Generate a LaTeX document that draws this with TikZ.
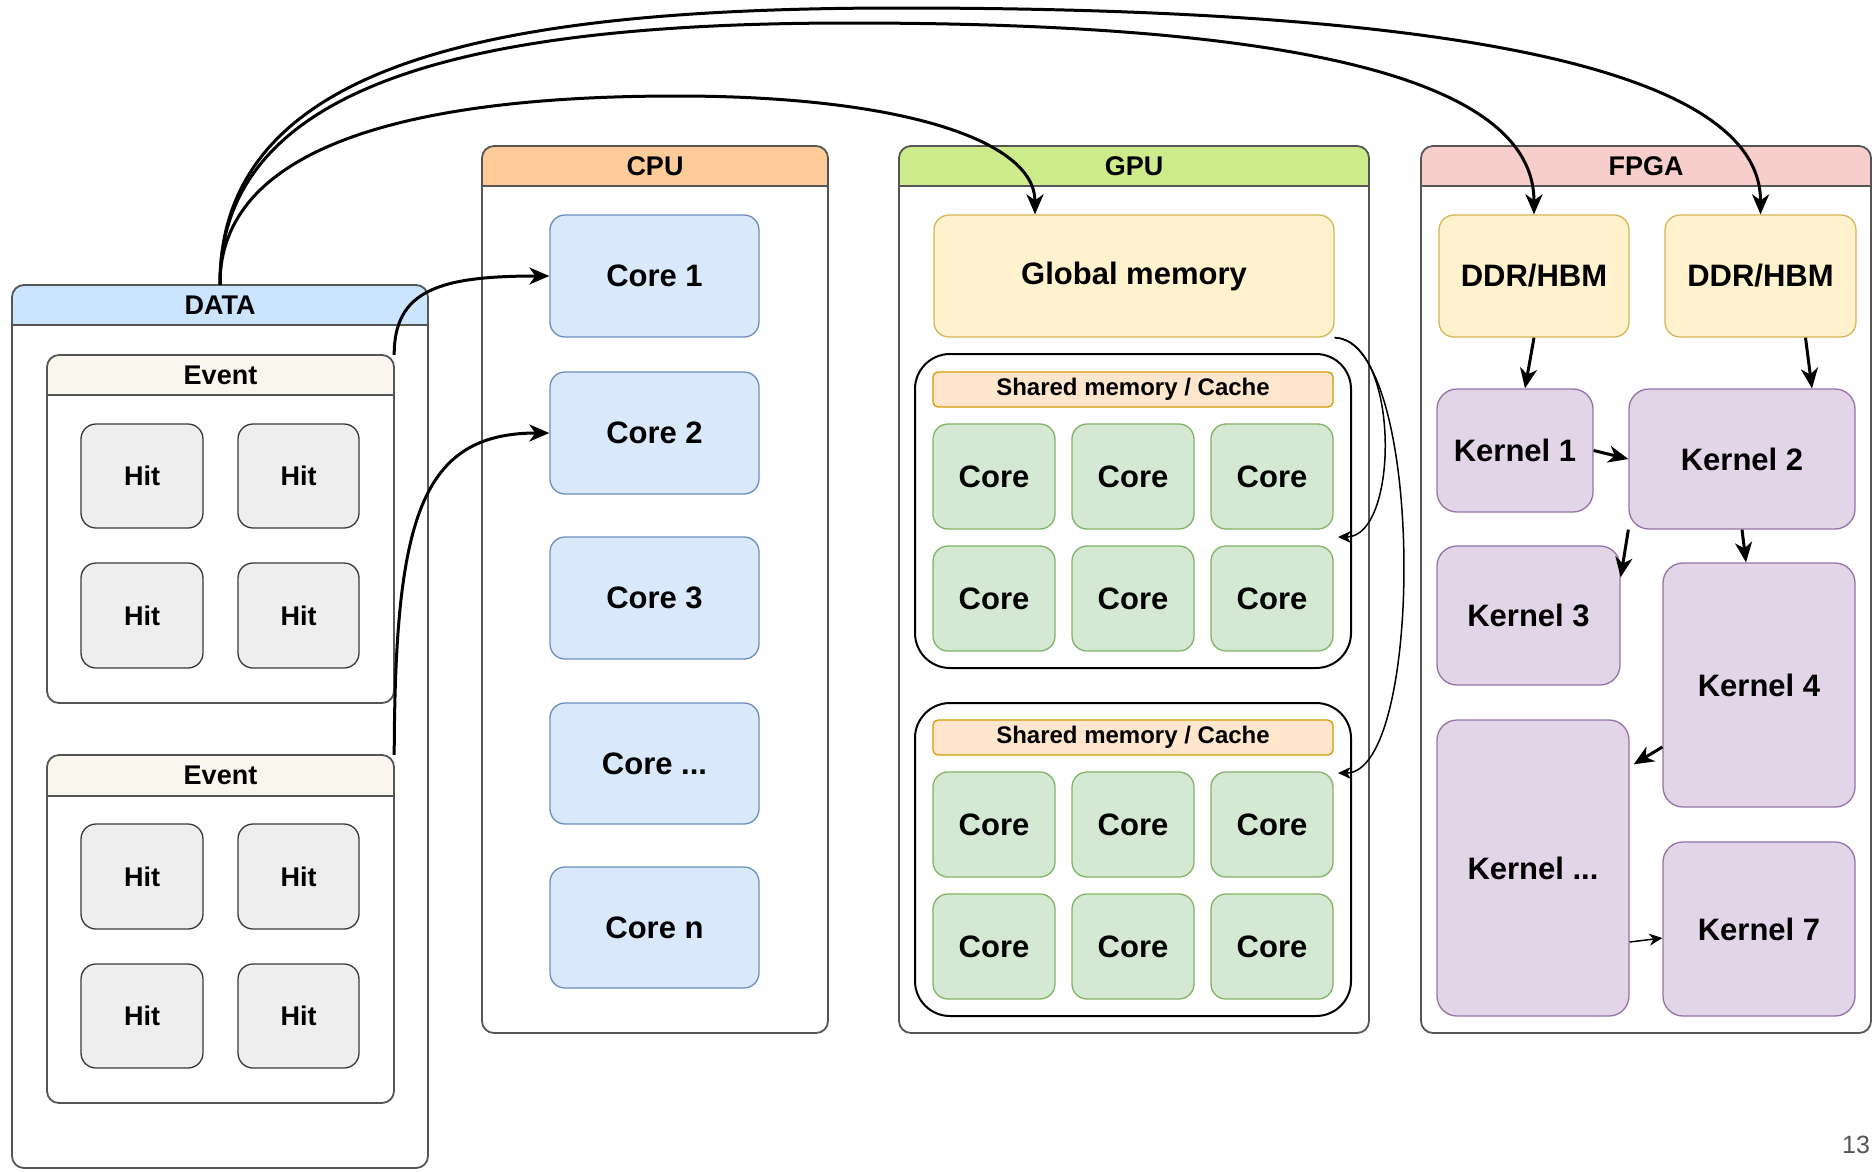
\documentclass[tikz,border=0pt]{standalone}
\usepackage{fontspec}
\setmainfont{Liberation Sans}
\usetikzlibrary{arrows.meta,fit}
\definecolor{laneline}{HTML}{555555}
\definecolor{datah}{HTML}{CCE5FF}
\definecolor{cpuh}{HTML}{FFCC99}
\definecolor{gpuh}{HTML}{CDEB8B}
\definecolor{fpgah}{HTML}{F8CECC}
\definecolor{evh}{HTML}{F9F7ED}
\definecolor{hitf}{HTML}{EEEEEE}
\definecolor{hits}{HTML}{36393D}
\definecolor{ccf}{HTML}{DAE8FC}
\definecolor{ccs}{HTML}{6C8EBF}
\definecolor{memf}{HTML}{FFF2CC}
\definecolor{mems}{HTML}{D6B656}
\definecolor{shf}{HTML}{FFE6CC}
\definecolor{shs}{HTML}{D79B00}
\definecolor{gcf}{HTML}{D5E8D4}
\definecolor{gcs}{HTML}{82B366}
\definecolor{kf}{HTML}{E1D5E7}
\definecolor{ks}{HTML}{9673A6}
\definecolor{pgnum}{HTML}{555555}
\newcommand\myfs[1]{\fontsize{#1}{#1}\selectfont}
\newcommand\bx[7]{\node[#1, fit={(#3,#4) (#5,#6)}] (#2) {};
  \node[#1, draw=none, fill=none, inner sep=0pt] (#2-t) at (#2.center) {#7};}
\newcommand\lane[8]{%
  \node[lanebody, fit={(#2,#3) (#4,#5)}] (#1) {};
  \fill[#7, rounded corners=12pt] (#2,#3) rectangle (#4,#3+#6);
  \fill[#7] (#2,#3+#6/2) rectangle (#4,#3+#6);
  \draw[lanestroke, rounded corners=12pt] (#2,#3) rectangle (#4,#5);
  \draw[lanestroke] (#2,#3+#6) -- (#4,#3+#6);
  \node[headtext] (#1-t) at ({(#2+#4)/2},{#3+#6/2}) {#8};
}
\begin{document}
\begin{tikzpicture}[x=1pt,y=-1pt,
  lanebody/.style={fill=white, rounded corners=12pt, inner sep=0pt},
  lanestroke/.style={draw=laneline, line width=1.8pt},
  headtext/.style={font=\bfseries\myfs{27}, inner sep=0pt},
  basebox/.style={draw, line width=1.3pt, inner sep=0pt, rounded corners=15pt, align=center, font=\bfseries\myfs{31}},
  hitbox/.style={basebox, fill=hitf, draw=hits, font=\bfseries\myfs{27}},
  cpucore/.style={basebox, fill=ccf, draw=ccs},
  membox/.style={basebox, fill=memf, draw=mems},
  gcore/.style={basebox, fill=gcf, draw=gcs},
  shbar/.style={basebox, fill=shf, draw=shs, rounded corners=5pt, font=\bfseries\myfs{24}},
  grpbox/.style={draw=black, line width=2pt, rounded corners=35pt, fill=white, inner sep=0pt},
  kernbox/.style={basebox, fill=kf, draw=ks, rounded corners=20pt},
  thickarrow/.style={line width=3pt, -{Stealth[length=20pt,width=17pt,inset=6pt]}},
  thinarrow/.style={line width=1.5pt, -{Stealth[length=13pt,width=12pt,inset=4pt]}}
]
\fill[white] (0,0) rectangle (1874,1171);
\useasboundingbox (0,0) rectangle (1874,1171);

% DATA
\lane{data}{12}{285}{428}{1168}{40}{datah}{DATA}
\lane{ev1}{47}{355}{394}{703}{40}{evh}{Event}
\bx{hitbox}{h11}{81}{424}{203}{528}{Hit}
\bx{hitbox}{h12}{238}{424}{359}{528}{Hit}
\bx{hitbox}{h13}{81}{563}{203}{668}{Hit}
\bx{hitbox}{h14}{238}{563}{359}{668}{Hit}
\lane{ev2}{47}{755}{394}{1103}{41}{evh}{Event}
\bx{hitbox}{h21}{81}{824}{203}{929}{Hit}
\bx{hitbox}{h22}{238}{824}{359}{929}{Hit}
\bx{hitbox}{h23}{81}{964}{203}{1068}{Hit}
\bx{hitbox}{h24}{238}{964}{359}{1068}{Hit}

% CPU
\lane{cpu}{482}{146}{828}{1033}{40}{cpuh}{CPU}
\bx{cpucore}{c1}{550}{215}{759}{337}{Core 1}
\bx{cpucore}{c2}{550}{372}{759}{494}{Core 2}
\bx{cpucore}{c3}{550}{537}{759}{659}{Core 3}
\bx{cpucore}{cd}{550}{703}{759}{824}{Core ...}
\bx{cpucore}{cn}{550}{867}{759}{988}{Core n}

% GPU
\lane{gpu}{899}{146}{1369}{1033}{40}{gpuh}{GPU}
\bx{membox}{gm}{934}{215}{1334}{337}{Global memory}
\node[grpbox, fit={(915,354) (1351,668)}] (g1) {};
\bx{shbar}{sb1}{933}{372}{1333}{407}{Shared memory / Cache}
\bx{gcore}{g1a}{933}{424}{1055}{529}{Core}
\bx{gcore}{g1b}{1072}{424}{1194}{529}{Core}
\bx{gcore}{g1c}{1211}{424}{1333}{529}{Core}
\bx{gcore}{g1d}{933}{546}{1055}{651}{Core}
\bx{gcore}{g1e}{1072}{546}{1194}{651}{Core}
\bx{gcore}{g1f}{1211}{546}{1333}{651}{Core}
\node[grpbox, fit={(915,703) (1351,1016)}] (g2) {};
\bx{shbar}{sb2}{933}{720}{1333}{755}{Shared memory / Cache}
\bx{gcore}{g2a}{933}{772}{1055}{877}{Core}
\bx{gcore}{g2b}{1072}{772}{1194}{877}{Core}
\bx{gcore}{g2c}{1211}{772}{1333}{877}{Core}
\bx{gcore}{g2d}{933}{894}{1055}{999}{Core}
\bx{gcore}{g2e}{1072}{894}{1194}{999}{Core}
\bx{gcore}{g2f}{1211}{894}{1333}{999}{Core}

% FPGA
\lane{fpga}{1421}{146}{1871}{1033}{40}{fpgah}{FPGA}
\bx{membox}{ddr1}{1439}{215}{1629}{337}{DDR/HBM}
\bx{membox}{ddr2}{1665}{215}{1856}{337}{DDR/HBM}
\bx{kernbox}{k1}{1437}{389}{1593}{512}{Kernel 1}
\bx{kernbox}{k2}{1629}{389}{1855}{529}{Kernel 2}
\bx{kernbox}{k3}{1437}{546}{1620}{685}{Kernel 3}
\bx{kernbox}{k4}{1663}{563}{1855}{807}{Kernel 4}
\bx{kernbox}{kd}{1437}{720}{1629}{1016}{Kernel ...}
\bx{kernbox}{k7}{1663}{842}{1855}{1016}{Kernel 7}

% page number
\node[font=\myfs{25}, text=pgnum, inner sep=0pt] (pg) at (1856,1145) {13};

% connectors from DATA
\draw[thickarrow] (data.north) .. controls (219,60) and (500,8) .. (900,8)
   .. controls (1500,8) and (1761,80) .. (ddr2.north);
\draw[thickarrow] (data.north) .. controls (219,80) and (480,23) .. (850,23)
   .. controls (1300,23) and (1534,80) .. (ddr1.north);
\draw[thickarrow] (data.north) .. controls (219,150) and (400,96) .. (677,96)
   .. controls (900,96) and (1035,140) .. ([shift={(-99,0)}]gm.north);
\draw[thickarrow] (ev1.north east) .. controls (394,290) and (440,276) .. (c1.west);
\draw[thickarrow] (ev2.north east) .. controls (395,520) and (420,433) .. (c2.west);

% GPU
\draw[thinarrow] (gm.south east) .. controls (1400,340) and (1400,537) .. ([shift={(-14,26)}]g1.east);
\draw[thinarrow] (gm.south east) .. controls (1425,340) and (1425,773) .. ([shift={(-14,-86.5)}]g2.east);

% FPGA
\draw[thickarrow] (ddr1.south) -- ([shift={(10,0)}]k1.north);
\draw[thickarrow] ([shift={(45,0)}]ddr2.south) -- ([shift={(70,0)}]k2.north);
\draw[thickarrow] (k1.east) -- (k2.west);
\draw[thickarrow] (k2.south west) -- ([shift={(0,32)}]k3.north east);
\draw[thickarrow] (k2.south) -- ([shift={(-13,0)}]k4.north);
\draw[thickarrow] ([shift={(0,62)}]k4.west) -- ([shift={(4,45)}]kd.north east);
\draw[thinarrow] ([shift={(0,74)}]kd.east) -- ([shift={(0,9)}]k7.west);
\end{tikzpicture}
\end{document}
